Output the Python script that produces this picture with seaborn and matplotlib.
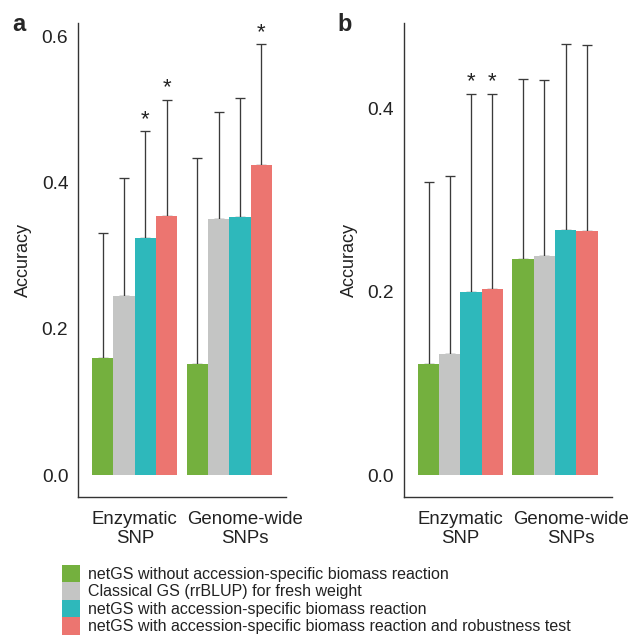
import numpy as np
import pandas as pd
import matplotlib
matplotlib.use("Agg")
import matplotlib.pyplot as plt
import matplotlib.transforms as mtransforms
from matplotlib.patches import Patch
import seaborn as sns

# data
snp_sets = ["Enzymatic\nSNP", "Genome-wide\nSNPs"]
methods = [
    "netGS without accession-specific biomass reaction",
    "Classical GS (rrBLUP) for fresh weight",
    "netGS with accession-specific biomass reaction",
    "netGS with accession-specific biomass reaction and robustness test",
]
colors = ["#74B03E", "#C4C5C4", "#2EB8BB", "#EC7570"]

# panel a: mean accuracy per method (rows) for each SNP set (columns)
acc_a = [[0.161, 0.152], [0.245, 0.350], [0.324, 0.353], [0.355, 0.424]]
top_a = [[0.331, 0.433], [0.406, 0.496], [0.470, 0.515], [0.513, 0.589]]
star_a = [[False, False], [False, False], [True, False], [True, True]]

# panel b
acc_b = [[0.121, 0.236], [0.132, 0.239], [0.200, 0.267], [0.203, 0.266]]
top_b = [[0.320, 0.432], [0.326, 0.430], [0.415, 0.470], [0.415, 0.469]]
star_b = [[False, False], [False, False], [True, False], [True, False]]

sns.set_style("white")
plt.rcParams["font.family"] = ["Liberation Sans", "DejaVu Sans"]

fig = plt.figure(figsize=(6.44, 6.41), dpi=100)
ax_a = fig.add_axes([0.1211, 0.2247, 0.323, 0.7394])
ax_b = fig.add_axes([0.6269, 0.2247, 0.323, 0.7394])

dark = "#333333"


def draw_panel(ax, acc, top, star, ylim, yticks, letter):
    rows = []
    for m, vals in zip(methods, acc):
        for s, v in zip(snp_sets, vals):
            rows.append({"set": s, "method": m, "acc": v})
    df = pd.DataFrame(rows)
    sns.barplot(data=df, x="set", y="acc", hue="method", order=snp_sets,
                hue_order=methods, palette=colors, width=0.9, errorbar=None,
                saturation=1, linewidth=0, legend=False, ax=ax, zorder=2)
    for cont, means, tops, stars in zip(ax.containers, acc, top, star):
        xs = [p.get_x() + p.get_width() / 2 for p in cont]
        lo = np.zeros(len(means))
        hi = np.array(tops) - np.array(means)
        ax.errorbar(xs, means, yerr=[lo, hi], fmt="none", ecolor="#3a3a3a",
                    elinewidth=0.95, capsize=3.6, capthick=0.95, zorder=1)
        for x, t, s in zip(xs, tops, stars):
            if s:
                ax.text(x, t + 0.002, "*", ha="center", va="bottom",
                        fontsize=16, color="#222222")
    ax.set_xlim(-0.6, 1.6)
    ax.set_ylim(*ylim)
    ax.set_yticks(yticks)
    ax.set_yticklabels([f"{t:.1f}" for t in yticks])
    ax.set_xlabel("")
    ax.set_ylabel("Accuracy", fontsize=13, color="#222222", labelpad=7)
    sns.despine(ax=ax)
    for sp in ["left", "bottom"]:
        ax.spines[sp].set_color(dark)
        ax.spines[sp].set_linewidth(1.0)
    ax.tick_params(axis="both", direction="out", length=4, width=0.9,
                   color=dark, labelsize=13.8, labelcolor="#222222", pad=3)
    ax.tick_params(axis="x", labelsize=13.4, pad=6)
    labels = ax.get_xticklabels()
    for lab in labels:
        lab.set_linespacing(1.18)
    shift = mtransforms.ScaledTranslation(0.16, 0, fig.dpi_scale_trans)
    labels[1].set_transform(labels[1].get_transform() + shift)
    pos = ax.get_position()
    fig.text(pos.x0 - 0.092, 0.962, letter, fontsize=17, fontweight="bold",
             ha="center", va="center")


draw_panel(ax_a, acc_a, top_a, star_a, (-0.0295, 0.618), [0.0, 0.2, 0.4, 0.6], "a")
draw_panel(ax_b, acc_b, top_b, star_b, (-0.0235, 0.4926), [0.0, 0.2, 0.4], "b")

handles = [Patch(facecolor=c, edgecolor="none", label=m) for c, m in zip(colors, methods)]
fig.legend(handles=handles, loc="upper left", bbox_to_anchor=(0.0963, 1 - 565 / 641),
           frameon=False, fontsize=11.5, handlelength=1.12, handleheight=1.3,
           handletextpad=0.5, labelspacing=0.0, borderpad=0, borderaxespad=0,
           labelcolor="#222222")

fig.savefig("out.png", dpi=100)
